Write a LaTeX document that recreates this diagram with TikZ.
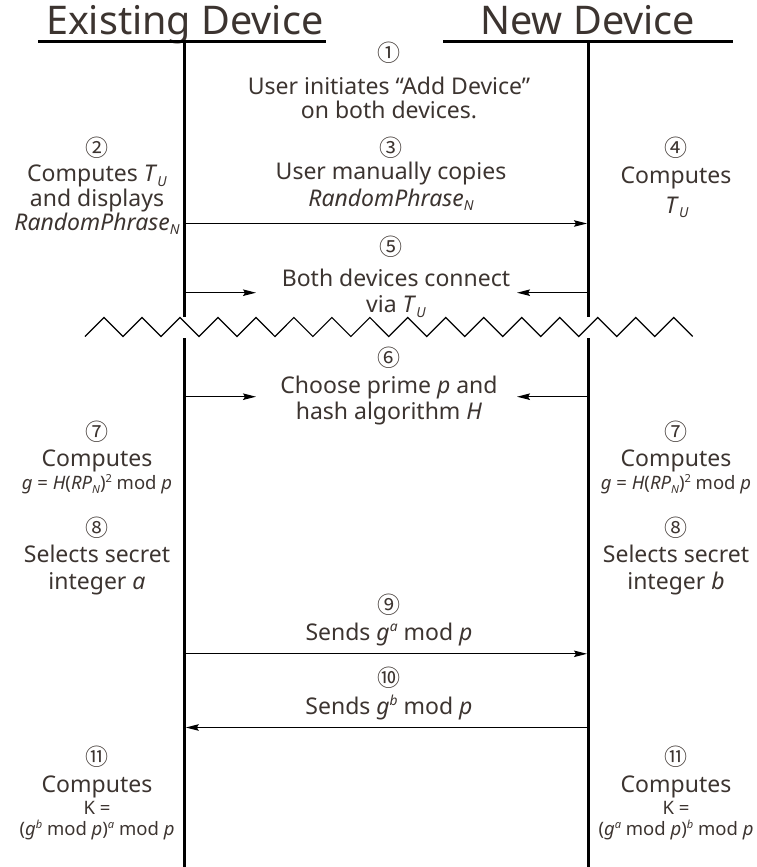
\documentclass[tikz,border=0pt]{standalone}
\usepackage{fontspec}
\setmainfont{Noto Sans}
\newfontfamily\circfont{Noto Sans CJK SC}
\usetikzlibrary{arrows.meta}
\definecolor{textc}{HTML}{3C3430}

% small lowered / raised indices scaled to the current font
\newcommand{\sbs}[1]{\raisebox{-0.4ex}{\scalebox{0.6}{#1}}}
\newcommand{\sps}[1]{\raisebox{0.7ex}{\scalebox{0.6}{#1}}}
\newcommand{\itsub}[2]{\textit{#1}\sbs{\textit{#2}}}
\newcommand{\itsup}[2]{\textit{#1}\sps{\textit{#2}}}

\begin{document}
\begin{tikzpicture}[x=1pt,y=-1pt,
  txt/.style={inner sep=0pt, anchor=base, text=textc, font=\fontsize{23}{26}\selectfont},
  smalltxt/.style={txt, font=\fontsize{18.5}{22}\selectfont},
  headtxt/.style={txt, font=\fontsize{39.5}{44}\selectfont},
  num/.style={inner sep=0pt, anchor=center, text=textc, font=\circfont\fontsize{23}{25}\selectfont},
  lifeline/.style={line width=3pt},
  headrule/.style={line width=3pt},
  msg/.style={line width=1.2pt, -{Stealth[length=13pt,width=6.5pt,inset=2pt]}},
  zig/.style={line width=1.2pt, line join=miter}]

\useasboundingbox (0,0) rectangle (757,867);

% ---------- headers ----------
\node[headtxt] (hL) at (184.7,35) {Existing Device};
\node[headtxt] (hR) at (587.7,35) {New Device};
\coordinate (ulLa) at (38.3,41.7);  \coordinate (ulLb) at (325.7,41.7);
\coordinate (ulRa) at (443,41.7);   \coordinate (ulRb) at (733,41.7);
\draw[headrule] (ulLa) -- (ulLb);
\draw[headrule] (ulRa) -- (ulRb);

% ---------- lifelines (broken at the zigzag) ----------
\coordinate (Ltop) at (184.3,41.7); \coordinate (Lcut1) at (184.3,316.7);
\coordinate (Lcut2) at (184.3,338.3); \coordinate (Lbot) at (184.3,867);
\coordinate (Rtop) at (588.5,41.7); \coordinate (Rcut1) at (588.5,316.7);
\coordinate (Rcut2) at (588.5,338.3); \coordinate (Rbot) at (588.5,867);
\draw[lifeline] (Ltop) -- (Lcut1);
\draw[lifeline] (Lcut2) -- (Lbot);
\draw[lifeline] (Rtop) -- (Rcut1);
\draw[lifeline] (Rcut2) -- (Rbot);

% ---------- zigzag separator ----------
\draw[zig] (85,336.5)
  \foreach \k in {0,...,15} { -- ({85+18.99+37.98*\k},317.5) -- ({85+37.98*(\k+1)},336.5) };

% ---------- step 1 ----------
\node[num] (n1) at (389,52.5) {①};
\node[txt] (t1a) at (389,94) {User initiates “Add Device”};
\node[txt] (t1b) at (389,118.5) {on both devices.};

% ---------- step 2 ----------
\node[num] (n2) at (97,147.5) {②};
\node[txt] (t2a) at (97,181.5) {Computes \itsub{T}{U}};
\node[txt] (t2b) at (97,206) {and displays};
\node[txt] (t2c) at (97,230) {\itsub{RandomPhrase}{N}};

% ---------- step 3 ----------
\node[num] (n3) at (391,147.5) {③};
\node[txt] (t3a) at (391,179.5) {User manually copies};
\node[txt] (t3b) at (391,206) {\itsub{RandomPhrase}{N}};
\coordinate (L3) at (184.3,223.5); \coordinate (R3) at (588.5,223.5);
\draw[msg, shorten >=1.5pt] (L3) -- (R3);

% ---------- step 4 ----------
\node[num] (n4) at (676,147.5) {④};
\node[txt] (t4a) at (676,183) {Computes};
\node[txt] (t4b) at (677,213) {\itsub{T}{U}};

% ---------- step 5 ----------
\node[num] (n5) at (391,247) {⑤};
\node[txt] (t5a) at (396,286) {Both devices connect};
\node[txt] (t5b) at (396,312.5) {via \itsub{T}{U}};
\coordinate (L5) at (184.3,292.7); \coordinate (L5e) at (256,292.7);
\coordinate (R5) at (588.5,292.7); \coordinate (R5e) at (517,292.7);
\draw[msg] (L5) -- (L5e);
\draw[msg] (R5) -- (R5e);

% ---------- step 6 ----------
\node[num] (n6) at (389,357.3) {⑥};
\node[txt] (t6a) at (389,393.3) {Choose prime \textit{p} and};
\node[txt] (t6b) at (389,419.3) {hash algorithm \textit{H}};
\coordinate (L6) at (184.3,396.7); \coordinate (L6e) at (256,396.7);
\coordinate (R6) at (588.5,396.7); \coordinate (R6e) at (517,396.7);
\draw[msg] (L6) -- (L6e);
\draw[msg] (R6) -- (R6e);

% ---------- step 7 ----------
\node[num] (n7L) at (97,432) {⑦};
\node[txt] (t7La) at (97,466) {Computes};
\node[smalltxt] (t7Lb) at (97,489.5) {\textit{g} = \textit{H}(\itsub{RP}{N})\sps{2} mod \textit{p}};
\node[num] (n7R) at (676,432) {⑦};
\node[txt] (t7Ra) at (676,466) {Computes};
\node[smalltxt] (t7Rb) at (676,489.5) {\textit{g} = \textit{H}(\itsub{RP}{N})\sps{2} mod \textit{p}};

% ---------- step 8 ----------
\node[num] (n8L) at (97,527.5) {⑧};
\node[txt] (t8La) at (97,562.7) {Selects secret};
\node[txt] (t8Lb) at (97,589) {integer \textit{a}};
\node[num] (n8R) at (676,527.5) {⑧};
\node[txt] (t8Ra) at (676,562.7) {Selects secret};
\node[txt] (t8Rb) at (676,589) {integer \textit{b}};

% ---------- step 9 ----------
\node[num] (n9) at (389,604.5) {⑨};
\node[txt] (t9) at (389,640) {Sends \itsup{g}{a} mod \textit{p}};
\coordinate (L9) at (184.3,653.8); \coordinate (R9) at (588.5,653.8);
\draw[msg, shorten >=1.5pt] (L9) -- (R9);

% ---------- step 10 ----------
\node[num] (n10) at (389,677.5) {⑩};
\node[txt] (t10) at (389,714) {Sends \itsup{g}{b} mod \textit{p}};
\coordinate (L10) at (184.3,727.5); \coordinate (R10) at (588.5,727.5);
\draw[msg, shorten >=1.5pt] (R10) -- (L10);

% ---------- step 11 ----------
\node[num] (n11L) at (97,757) {⑪};
\node[txt] (t11La) at (97,792.7) {Computes};
\node[smalltxt] (t11Lb) at (97,814.5) {K =};
\node[smalltxt] (t11Lc) at (97,835) {(\itsup{g}{b} mod \textit{p})\sps{\textit{a}} mod \textit{p}};
\node[num] (n11R) at (676,757) {⑪};
\node[txt] (t11Ra) at (676,792.7) {Computes};
\node[smalltxt] (t11Rb) at (676,814.5) {K =};
\node[smalltxt] (t11Rc) at (676,835) {(\itsup{g}{a} mod \textit{p})\sps{\textit{b}} mod \textit{p}};

\end{tikzpicture}
\end{document}
